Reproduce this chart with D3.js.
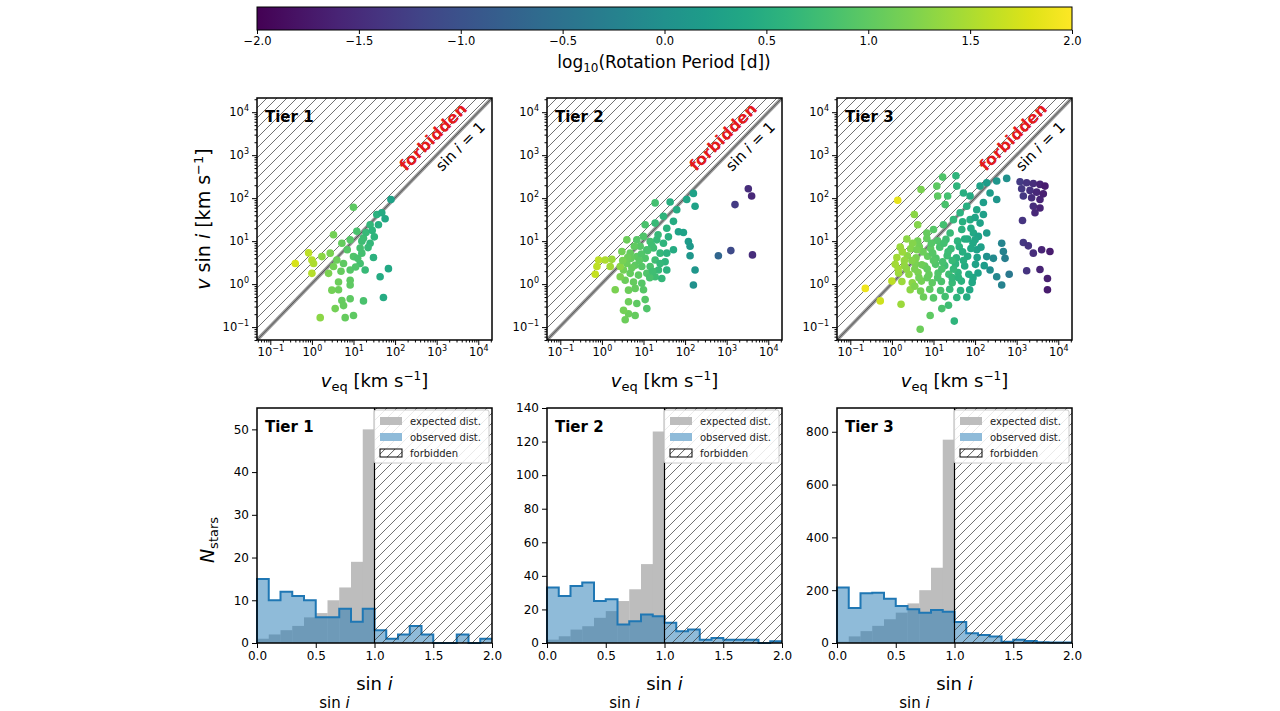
<!DOCTYPE html>
<html><head><meta charset="utf-8">
<script src="https://cdnjs.cloudflare.com/ajax/libs/d3/7.8.5/d3.min.js"></script>
<style>body{margin:0;background:#fff}svg{font-family:"DejaVu Sans",sans-serif}</style>
</head><body>
<svg id="c" width="1280" height="711"></svg>
<script>
// scatter data: [log10 veq, log10 vsini, log10 Prot]
var tier1Stars = [
[1.90,1.97,0.30],[1.00,1.79,1.00],[1.56,1.62,0.55],[1.68,1.66,0.45],[1.76,1.52,0.40],[1.60,1.38,0.50],[1.40,1.38,0.65],
[1.08,1.23,0.85],[0.52,1.15,1.15],[0.92,1.03,0.95],[1.24,1.07,0.75],[1.40,0.95,0.65],[1.16,0.84,0.80],[0.72,0.95,1.05],
[-0.08,0.73,1.60],[0.24,0.64,1.30],[0.00,0.56,1.55],[0.04,0.48,1.50],[-0.40,0.48,1.75],[0.00,0.25,1.55],[0.44,0.72,1.20],
[0.60,0.56,1.10],[0.52,0.41,1.15],[0.76,0.48,1.00],[0.92,0.33,0.95],[1.16,0.48,0.80],[1.28,0.33,0.70],[1.48,0.62,0.55],
[1.20,0.72,0.80],[1.00,0.64,0.90],[0.40,0.25,1.20],[0.64,0.05,1.10],[0.92,0.09,1.00],[0.92,-0.02,1.00],[0.48,-0.14,1.15],
[0.64,-0.13,1.10],[1.84,0.36,0.40],[1.64,0.17,0.45],[1.72,-0.31,0.45],[1.24,-0.39,0.85],[0.92,-0.34,1.00],[0.72,-0.38,1.05],
[0.76,-0.50,1.05],[0.56,-0.57,1.15],[1.00,-0.73,1.00],[0.80,-0.78,1.05],[0.20,-0.78,1.30],[1.30,1.20,0.70],[1.45,1.25,0.60],
[1.20,1.00,0.75],[1.35,0.85,0.70],[1.10,0.60,0.85],[0.85,0.80,0.95],[1.50,1.10,0.60],[0.70,0.30,1.05],[1.05,0.40,0.90]];
var tier2Stars = [
[2.20,2.11,0.30],[2.04,1.97,0.35],[2.24,1.81,0.30],[1.64,1.91,0.50],[1.28,1.89,0.80],[1.80,1.73,0.45],[3.52,2.22,-1.50],
[3.60,2.05,-1.55],[3.20,1.85,-1.30],[1.48,1.58,0.60],[1.72,1.46,0.45],[1.28,1.42,0.70],[1.04,1.38,0.85],[1.56,1.30,0.55],
[1.84,1.22,0.30],[1.96,1.20,0.30],[2.08,0.99,0.20],[2.12,0.88,0.15],[2.12,0.66,0.10],[2.24,0.33,0.10],[2.20,-0.02,0.00],
[2.80,0.66,-0.70],[3.10,0.78,-1.10],[3.62,0.68,-1.50],[0.60,1.03,1.10],[0.84,1.03,0.95],[1.00,1.11,0.90],[1.16,0.99,0.80],
[1.32,1.03,0.70],[1.48,0.95,0.60],[0.92,0.88,0.95],[1.08,0.80,0.85],[1.24,0.84,0.75],[1.40,0.72,0.65],[1.56,0.72,0.55],
[1.72,0.80,0.45],[0.68,0.72,1.05],[0.48,0.76,1.15],[0.84,0.64,1.00],[1.04,0.60,0.90],[1.28,0.56,0.75],[1.52,0.52,0.60],
[0.60,0.48,1.10],[0.80,0.44,1.00],[0.96,0.41,0.95],[1.16,0.41,0.85],[1.36,0.33,0.70],[1.56,0.33,0.55],[0.52,0.33,1.15],
[0.68,0.25,1.05],[0.88,0.21,1.00],[1.08,0.25,0.90],[1.28,0.17,0.75],[1.44,0.13,0.65],[0.56,0.09,1.10],[0.76,0.05,1.05],
[0.96,0.02,0.95],[0.44,0.17,1.20],[-0.08,0.56,1.60],[0.08,0.56,1.50],[-0.12,0.41,1.60],[0.20,0.41,1.45],[-0.16,0.23,1.65],
[0.24,0.58,1.40],[0.44,0.41,1.30],[0.32,-0.13,1.20],[0.64,-0.14,1.10],[0.80,-0.10,1.05],[1.00,-0.13,0.95],[0.64,-0.41,1.10],
[0.84,-0.45,1.00],[1.04,-0.36,0.95],[1.08,-0.57,0.90],[0.64,-0.69,1.10],[0.80,-0.73,1.05],[0.56,-0.83,1.10],[0.52,-0.61,1.15],
[0.70,0.60,1.05],[1.20,0.90,0.78],[1.35,1.15,0.68],[0.95,0.70,0.92],[1.15,0.15,0.85],[0.72,0.38,1.05],[1.60,1.10,0.52],
[0.90,0.55,0.97],[1.10,0.78,0.85],[0.62,0.62,1.10],[0.78,0.88,1.02],[1.22,0.30,0.78],[0.50,0.55,1.18],[1.40,0.48,0.66]];
var tier3Stars = [
[3.08,2.38,-1.30],[3.24,2.36,-1.40],[3.40,2.34,-1.50],[3.56,2.32,-1.60],[3.68,2.28,-1.70],[3.12,2.22,-1.35],[3.32,2.18,-1.45],
[3.48,2.14,-1.55],[3.64,2.10,-1.65],[3.16,2.05,-1.35],[3.36,2.01,-1.50],[3.56,1.97,-1.60],[3.40,1.81,-1.50],[3.56,1.77,-1.60],
[3.44,1.66,-1.55],[3.14,1.48,-1.40],[3.16,0.97,-1.35],[3.28,0.89,-1.40],[3.40,0.72,-1.50],[3.60,0.80,-1.60],[3.80,0.76,-1.70],
[3.24,0.31,-1.40],[3.56,0.34,-1.60],[3.74,0.13,-1.65],[3.74,-0.13,-1.70],[0.14,1.95,1.85],[-0.64,-0.10,1.90],[-0.28,-0.39,1.70],
[0.00,0.07,1.60],[0.22,-0.47,1.40],[0.68,-1.05,1.10],[0.92,-0.73,1.00],[1.20,-0.57,0.85],[1.36,-0.49,0.75],[1.50,-0.86,0.60],
[1.22,2.49,0.90],[1.54,2.52,0.60],[1.08,2.28,1.00],[0.70,2.20,1.20],[1.10,2.05,1.00],[1.34,2.05,0.80],[1.28,1.85,0.85],
[0.54,1.62,1.30],[0.62,1.38,1.25],[1.56,2.28,0.60],[1.72,2.12,0.50],[1.88,2.05,0.45],[2.12,2.28,0.30],[2.28,2.36,0.20],
[2.52,2.40,0.10],[2.76,2.46,0.00],[2.36,2.12,0.20],[2.52,1.97,0.10],[1.80,1.81,0.50],[2.04,1.73,0.35],[2.20,1.62,0.25],
[1.64,1.66,0.55],[1.48,1.50,0.65],[1.88,1.50,0.45],[2.12,1.42,0.30],[1.24,1.38,0.80],[1.00,1.27,0.95],[0.84,1.19,1.05],
[1.40,1.19,0.70],[1.68,1.27,0.55],[1.96,1.19,0.40],[2.08,1.11,0.30],[2.28,1.19,0.20],[2.64,0.95,-0.20],[2.68,0.76,-0.25],
[2.72,0.60,-0.30],[2.44,0.60,-0.10],[2.28,0.64,0.00],[2.36,0.33,-0.05],[2.52,0.17,-0.15],[2.82,0.23,-0.40],[2.64,-0.02,-0.25],
[2.04,0.80,0.30],[2.00,1.03,0.35],
[0.36,1.05,1.30],[0.62,1.00,1.15],[0.84,1.06,1.05],[1.10,1.01,0.90],[1.30,1.04,0.75],[1.58,1.00,0.60],[1.82,1.05,0.45],
[0.20,0.86,1.40],[0.45,0.82,1.25],[0.66,0.87,1.15],[0.93,0.83,1.00],[1.15,0.86,0.85],[1.42,0.82,0.70],[1.62,0.87,0.55],[1.90,0.83,0.40],[2.14,0.86,0.25],
[0.12,0.62,1.45],[0.37,0.66,1.30],[0.58,0.61,1.20],[0.86,0.65,1.05],[1.06,0.60,0.90],[1.33,0.66,0.75],[1.55,0.61,0.60],[1.82,0.65,0.45],[2.05,0.62,0.30],
[0.08,0.46,1.45],[0.30,0.43,1.35],[0.57,0.47,1.20],[0.79,0.42,1.05],[1.05,0.46,0.90],[1.27,0.43,0.75],[1.53,0.47,0.60],[1.75,0.42,0.45],[2.01,0.46,0.30],[2.22,0.43,0.20],
[0.16,0.26,1.40],[0.41,0.23,1.30],[0.63,0.27,1.20],[0.89,0.22,1.05],[1.11,0.26,0.90],[1.37,0.23,0.75],[1.59,0.27,0.60],[1.85,0.23,0.45],[2.07,0.26,0.30],
[0.24,0.06,1.40],[0.49,0.03,1.30],[0.71,0.07,1.15],[0.97,0.03,1.00],[1.19,0.06,0.85],[1.45,0.03,0.70],[1.67,0.07,0.55],[1.93,0.04,0.40],
[0.44,-0.13,1.30],[0.69,-0.16,1.15],[0.91,-0.12,1.00],[1.17,-0.15,0.85],[1.39,-0.12,0.70],[1.65,-0.15,0.55],[1.87,-0.13,0.40],
[0.76,-0.30,1.10],[1.00,-0.32,0.95],[1.28,-0.29,0.80],[1.56,-0.31,0.60],[1.80,-0.30,0.45],
[0.50,0.95,1.25],[0.75,0.75,1.10],[1.00,0.55,0.95],[1.20,0.35,0.85],[1.45,0.15,0.65],[0.30,0.55,1.35],[0.55,0.35,1.20],
[0.85,0.15,1.05],[1.70,0.75,0.50],[1.95,0.95,0.40],[1.25,0.95,0.80],[0.95,0.95,0.95],[1.45,0.55,0.70],[0.65,0.15,1.15],
[0.25,0.75,1.40],[0.48,0.55,1.25],[0.72,0.45,1.12],[0.98,0.72,0.95],[1.22,0.52,0.82],[1.48,0.35,0.66],[1.72,0.55,0.50],
[0.35,0.35,1.32],[0.60,0.80,1.18],[0.85,0.35,1.05],[1.10,0.15,0.90],[1.35,0.75,0.74],[1.60,0.15,0.58],[1.95,0.15,0.38],
[1.70,1.45,0.52],[1.90,1.30,0.42],[2.20,1.90,0.22],[2.00,1.55,0.33],[1.75,1.05,0.48],[0.15,0.35,1.45],[0.55,-0.05,1.22]];
var tierStars = [tier1Stars, tier2Stars, tier3Stars];
var tierNames = ["Tier 1", "Tier 2", "Tier 3"];

// histograms (bin width 0.1 in sin i)
var expectedCounts = [
  [1,2,3,4,6,7,10,13,19,50],
  [2,4,8,10,15,19,25,32,47,126],
  [5,25,45,65,90,115,150,200,285,770]];
var observedCounts = [
  [15,10,12,11,10,6,6,8,5,8,3,1,2,4,2,0,0,2,0,1],
  [33,28,34,36,25,26,11,13,17,16,12,7,8,2,3,2,2,2,0,1],
  [210,133,188,190,168,140,128,115,125,118,80,37,30,25,5,12,8,3,2,2]];
var histYMax = [55, 140, 890];
var histYTicks = [[0,10,20,30,40,50],[0,20,40,60,80,100,120,140],[0,200,400,600,800]];
var sinTicks = [0, 0.5, 1, 1.5, 2];
var logTicks = [-1,0,1,2,3,4];
var cbarTicks = [-2,-1.5,-1,-0.5,0,0.5,1,1.5,2];

var svg = d3.select("#c");
var color = d3.scaleSequential(d3.interpolateViridis).domain([-2, 2]);
var defs = svg.append("defs");

var hatch = defs.append("pattern").attr("id","hatch").attr("patternUnits","userSpaceOnUse")
  .attr("width",10).attr("height",10);
hatch.append("path").attr("d","M-1,1 L1,-1 M0,10 L10,0 M9,11 L11,9").attr("stroke","#333").attr("stroke-width",0.7);

// colorbar
var grad = defs.append("linearGradient").attr("id","vir");
d3.range(0,1.001,0.05).forEach(function(t){
  grad.append("stop").attr("offset",t).attr("stop-color",d3.interpolateViridis(t));
});
var cbX = d3.scaleLinear().domain([-2,2]).range([257,1072]);
svg.append("rect").attr("x",257).attr("y",7).attr("width",815).attr("height",23)
  .attr("fill","url(#vir)").attr("stroke","#000").attr("stroke-width",1);
svg.append("g").attr("transform","translate(0,30)")
  .call(d3.axisBottom(cbX).tickValues(cbarTicks).tickSize(4).tickFormat(function(d){return d3.format(".1f")(d).replace("-","\u2212");}))
  .call(function(g){g.select(".domain").remove(); g.selectAll("text").attr("font-size",11.5).attr("fill","#000").attr("font-family","DejaVu Sans");});
var cbl = svg.append("text").attr("x",664).attr("y",68).attr("text-anchor","middle").attr("font-size",17);
cbl.append("tspan").text("log");
cbl.append("tspan").attr("font-size",12).attr("dy",4).text("10");
cbl.append("tspan").attr("dy",-4).text("(Rotation Period [d])");

var panelX = [257, 547, 837];
var W = 235, sTop = 98, sH = 242, hTop = 408, hH = 235;

function supLabel(sel) {
  sel.each(function(d){
    var t = d3.select(this).text("");
    t.append("tspan").text("10");
    t.append("tspan").attr("font-size",8).attr("dy",-5).text(d < 0 ? "\u2212" + (-d) : d);
  });
}

panelX.forEach(function(px, i) {
  // ---- scatter ----
  var g = svg.append("g").attr("transform","translate(" + px + "," + sTop + ")");
  var x = d3.scaleLinear().domain([-1.32,4.33]).range([0,W]);
  var y = d3.scaleLinear().domain([-1.30,4.33]).range([sH,0]);
  var cid = "clip" + i;
  defs.append("clipPath").attr("id",cid).append("rect").attr("width",W).attr("height",sH);
  var inner = g.append("g").attr("clip-path","url(#" + cid + ")");
  inner.append("path").attr("d","M0," + sH + " L0,0 L" + W + ",0 Z").attr("fill","url(#hatch)");
  inner.append("line").attr("x1",0).attr("y1",sH).attr("x2",W).attr("y2",0).attr("stroke","#999").attr("stroke-width",3.5);
  inner.append("line").attr("x1",0).attr("y1",sH).attr("x2",W).attr("y2",0).attr("stroke","#555").attr("stroke-width",1);
  inner.selectAll("circle").data(tierStars[i]).enter().append("circle")
    .attr("cx",function(d){return x(d[0]);}).attr("cy",function(d){return y(d[1]);})
    .attr("r",3.8).attr("fill",function(d){return color(d[2]);});
  g.append("rect").attr("width",W).attr("height",sH).attr("fill","none").attr("stroke","#000").attr("stroke-width",1.5);
  var minor = [];
  d3.range(-2,5).forEach(function(k){ d3.range(2,10).forEach(function(m){ var v = k + Math.log10(m); if (v > -1.32 && v < 4.33) minor.push(v); }); });
  [[d3.axisBottom(x),"translate(0," + sH + ")"],[d3.axisLeft(y),""]].forEach(function(a){
    var ag = g.append("g").attr("transform",a[1]);
    ag.call(a[0].tickValues(minor).tickSize(2.5).tickFormat(""));
    ag.select(".domain").remove();
    var mg = g.append("g").attr("transform",a[1]);
    mg.call(a[0].tickValues(logTicks).tickSize(5).tickFormat(function(d){return d;}));
    mg.select(".domain").remove();
    mg.selectAll("text").attr("font-size",11.5).attr("fill","#000").attr("font-family","DejaVu Sans").call(supLabel);
  });
  g.append("text").attr("x",8).attr("y",24).attr("font-size",15).attr("font-weight","bold").text(tierNames[i]);
  g.append("text").attr("transform","translate(" + (W-55) + ",43) rotate(-45)").attr("text-anchor","middle")
    .attr("font-size",16).attr("font-weight","bold").attr("fill","#e41a1c").text("forbidden");
  var sl = g.append("text").attr("transform","translate(" + (W-28) + ",52) rotate(-45)").attr("text-anchor","middle").attr("font-size",15);
  sl.append("tspan").text("sin ");
  sl.append("tspan").attr("font-style","italic").text("i");
  sl.append("tspan").text(" = 1");
  var xl = g.append("text").attr("x",W/2).attr("y",sH+47).attr("text-anchor","middle").attr("font-size",18);
  xl.append("tspan").attr("font-style","italic").text("v");
  xl.append("tspan").attr("font-size",13).attr("dy",4).text("eq");
  xl.append("tspan").attr("dy",-4).text(" [km s");
  xl.append("tspan").attr("font-size",12).attr("dy",-7).text("\u22121");
  xl.append("tspan").attr("dy",7).text("]");

  // ---- histogram ----
  var h = svg.append("g").attr("transform","translate(" + px + "," + hTop + ")");
  var hx = d3.scaleLinear().domain([0,2]).range([0,W]);
  var hy = d3.scaleLinear().domain([0,histYMax[i]]).range([hH,0]);
  h.selectAll(".exp").data(expectedCounts[i]).enter().append("rect")
    .attr("x",function(d,j){return hx(j*0.1);}).attr("width",hx(0.1)-hx(0)+0.3)
    .attr("y",function(d){return hy(d);}).attr("height",function(d){return hH - hy(d);}).attr("fill","#bdbdbd");
  var steps = [];
  observedCounts[i].forEach(function(c,j){ steps.push([j*0.1,c]); steps.push([(j+1)*0.1,c]); });
  var area = d3.area().x(function(d){return hx(d[0]);}).y0(hH).y1(function(d){return hy(d[1]);});
  h.append("path").attr("d",area(steps)).attr("fill","#1f77b4").attr("fill-opacity",0.5);
  h.append("path").attr("d",d3.line().x(function(d){return hx(d[0]);}).y(function(d){return hy(d[1]);})([[0,0]].concat(steps)))
    .attr("fill","none").attr("stroke","#1f77b4").attr("stroke-width",2);
  h.append("rect").attr("x",hx(1)).attr("width",hx(2)-hx(1)).attr("height",hH).attr("fill","url(#hatch)");
  h.append("line").attr("x1",hx(1)).attr("x2",hx(1)).attr("y1",0).attr("y2",hH).attr("stroke","#000").attr("stroke-width",1.2);
  h.append("rect").attr("width",W).attr("height",hH).attr("fill","none").attr("stroke","#000").attr("stroke-width",1.5);
  var hxa = h.append("g").attr("transform","translate(0," + hH + ")")
    .call(d3.axisBottom(hx).tickValues(sinTicks).tickSize(5).tickFormat(d3.format(".1f")));
  var hya = h.append("g").call(d3.axisLeft(hy).tickValues(histYTicks[i]).tickSize(5));
  [hxa,hya].forEach(function(a){ a.select(".domain").remove(); a.selectAll("text").attr("font-size",12).attr("fill","#000").attr("font-family","DejaVu Sans"); });
  h.append("text").attr("x",8).attr("y",24).attr("font-size",15).attr("font-weight","bold").text(tierNames[i]);
  // legend
  var lg = h.append("g").attr("transform","translate(" + (W-118) + ",2)");
  lg.append("rect").attr("width",115).attr("height",53).attr("fill","#fff").attr("fill-opacity",0.85).attr("stroke","#ccc").attr("rx",2);
  var items = [["expected dist.","#bdbdbd"],["observed dist.","#8fbbd9"],["forbidden","url(#hatch)"]];
  items.forEach(function(it,k){
    lg.append("rect").attr("x",6).attr("y",7+k*16).attr("width",22).attr("height",8)
      .attr("fill",it[1]).attr("stroke",k==2 ? "#000" : "none");
    lg.append("text").attr("x",36).attr("y",15+k*16).attr("font-size",10).attr("fill","#222").text(it[0]);
  });
  var hl = h.append("text").attr("x",W/2).attr("y",hH+47).attr("text-anchor","middle").attr("font-size",18);
  hl.append("tspan").text("sin ");
  hl.append("tspan").attr("font-style","italic").text("i");
  var hl2 = h.append("text").attr("x",W/2 - 40).attr("y",hH+65).attr("text-anchor","middle").attr("font-size",15);
  hl2.append("tspan").text("sin ");
  hl2.append("tspan").attr("font-style","italic").text("i");
});

// y labels
var yl = svg.append("text").attr("transform","translate(210,219) rotate(-90)").attr("text-anchor","middle").attr("font-size",19);
yl.append("tspan").attr("font-style","italic").text("v");
yl.append("tspan").text(" sin ");
yl.append("tspan").attr("font-style","italic").text("i");
yl.append("tspan").text(" [km s");
yl.append("tspan").attr("font-size",13).attr("dy",-7).text("\u22121");
yl.append("tspan").attr("dy",7).text("]");
var nl = svg.append("text").attr("transform","translate(214,540) rotate(-90)").attr("text-anchor","middle").attr("font-size",19);
nl.append("tspan").attr("font-style","italic").text("N");
nl.append("tspan").attr("font-size",13).attr("dy",4).text("stars");
</script>
</body></html>
